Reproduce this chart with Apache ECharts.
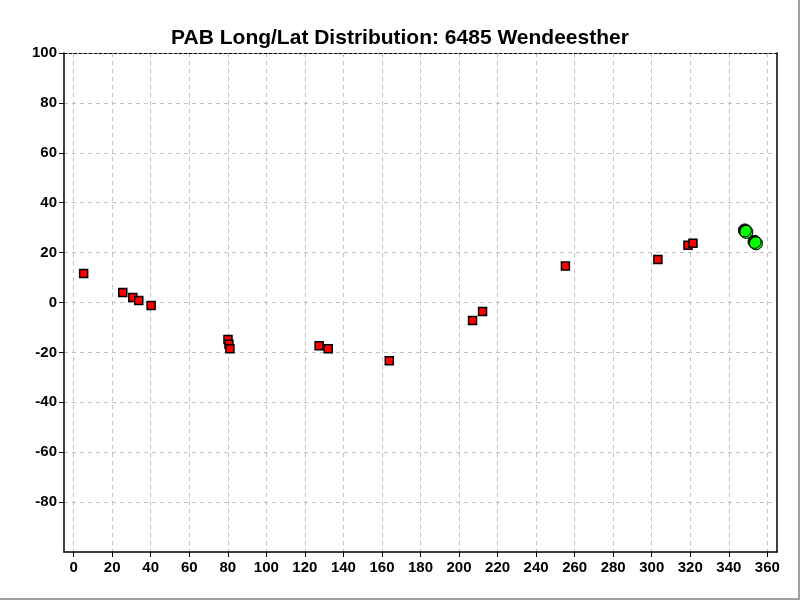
<!DOCTYPE html>
<html>
<head>
<meta charset="utf-8">
<script src="https://cdn.jsdelivr.net/npm/echarts@6/dist/echarts.min.js"></script>
<style>html,body{margin:0;padding:0;background:#fff;}#c{width:800px;height:600px;}</style>
</head>
<body>
<div id="c"></div>
<script>
var titleText = 'PAB Long/Lat Distribution: 6485 Wendeesther';
var xTicks = [0,20,40,60,80,100,120,140,160,180,200,220,240,260,280,300,320,340,360];
var yTicks = [-80,-60,-40,-20,0,20,40,60,80,100];
var redLong = [5.2, 25.5, 30.7, 33.8, 40.2, 80.1, 80.6, 81.1, 127.4, 132.1, 163.8, 207.0, 212.2, 255.2, 303.2, 318.8, 321.4];
var redLat  = [11.6, 4.0, 2.0, 0.8, -1.2, -14.8, -16.7, -18.5, -17.3, -18.5, -23.3, -7.2, -3.6, 14.6, 17.2, 22.9, 23.7];
var greenLong = [349.1, 354.1];
var greenLat  = [28.3, 23.7];

var redData = redLong.map(function(v,i){return [v, redLat[i]];});
var greenData = greenLong.map(function(v,i){return [v, greenLat[i]];});

var chart = echarts.init(document.getElementById('c'), null, {renderer:'canvas'});
var lblFont = {color:'#000', fontWeight:'bold', fontSize:15, fontFamily:'Liberation Sans, Arial, sans-serif'};
chart.setOption({
  animation: false,
  backgroundColor: '#fff',
  title: {
    text: titleText, left: 'center', top: 23,
    textStyle: {color:'#000', fontWeight:'bold', fontSize:21, fontFamily:'Liberation Sans, Arial, sans-serif'}
  },
  grid: {left:64, right:23, top:53, bottom:48, containLabel:false},
  xAxis: [{
    type:'value', min:-5, max:365, position:'bottom',
    axisLine:{show:true, onZero:false, lineStyle:{color:'#000', width:1.5}},
    axisTick:{show:true, length:5, customValues: xTicks, lineStyle:{color:'#000'}},
    axisLabel: Object.assign({customValues: xTicks, margin:8}, lblFont),
    splitLine:{show:true, lineStyle:{color:'#c0c0c0', type:[4,4], width:1}}
  },{
    type:'value', min:-5, max:365, position:'top',
    axisLine:{show:true, onZero:false, lineStyle:{color:'#000', width:1, type:[3,2]}},
    axisTick:{show:false}, axisLabel:{show:false}, splitLine:{show:false}
  }],
  yAxis: [{
    type:'value', min:-100, max:100, position:'left',
    axisLine:{show:true, onZero:false, lineStyle:{color:'#000', width:1.5}},
    axisTick:{show:true, length:5, customValues: yTicks, lineStyle:{color:'#000'}},
    axisLabel: Object.assign({margin:7, customValues: yTicks}, lblFont),
    splitLine:{show:true, lineStyle:{color:'#c0c0c0', type:[4,4], width:1}}
  },{
    type:'value', min:-100, max:100, position:'right',
    axisLine:{show:true, onZero:false, lineStyle:{color:'#000', width:1.5}},
    axisTick:{show:false}, axisLabel:{show:false}, splitLine:{show:false}
  }],
  series: [{
    type:'scatter', data: redData, symbol:'rect', symbolSize:8,
    itemStyle:{color:'#ff0000', borderColor:'#000', borderWidth:1.5, opacity:1}
  },{
    type:'scatter', data: greenData, symbol:'circle', symbolSize:13,
    itemStyle:{color:'#00ff00', borderColor:'#000', borderWidth:1, opacity:1,
      shadowColor:'#000', shadowBlur:0, shadowOffsetX:-1.5, shadowOffsetY:-1.5}
  }],
  graphic: [
    {type:'rect', shape:{x:0, y:598, width:800, height:2}, style:{fill:'#a0a0a0'}, silent:true},
    {type:'rect', shape:{x:798, y:0, width:2, height:600}, style:{fill:'#a0a0a0'}, silent:true}
  ]
});
</script>
</body>
</html>
